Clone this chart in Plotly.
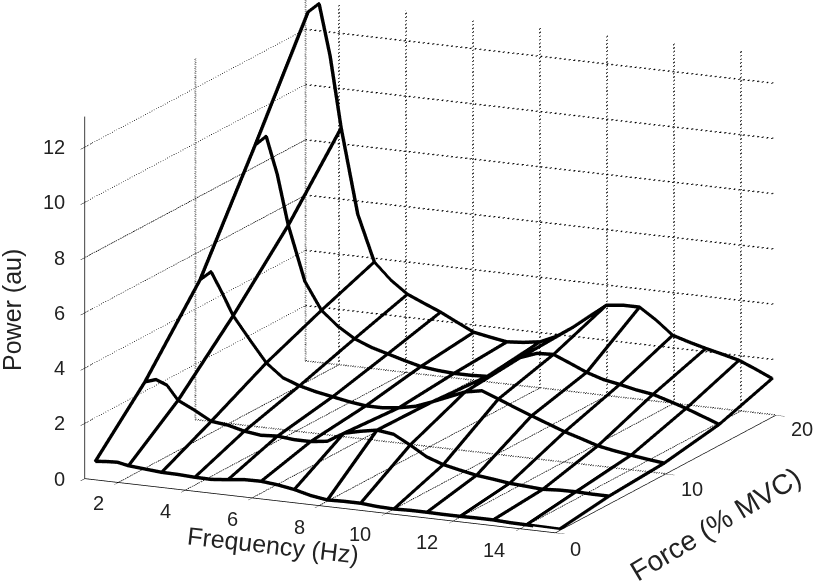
import plotly.graph_objects as go

# frequency samples (Hz); the wire lines run at every cross_idx sample
freq = [1.15, 1.48, 1.81, 2.14, 2.635, 3.13, 3.625, 4.12, 4.615, 5.11, 5.605, 6.1, 6.595, 7.09, 7.585,
        8.08, 8.575, 9.07, 9.565, 10.06, 10.555, 11.05, 11.545, 12.04, 12.535, 13.03, 13.525, 14.02, 14.515, 15.01]
cross_idx = [0, 3, 5, 7, 9, 11, 13, 15, 17, 19, 21, 23, 25, 27, 29]
force = [0.5, 5, 10, 15, 19.8]

power_f0 = [.54, .58, .6, .52, .47, .42, .41, .38, .37, .43, .5, .51, .45, .35, .2,
            .11, .13, .13, .08, .06, .08, .08, .07, .07, .08, .08, .05, .04, .03, .02]
power_f5 = [2.46, 2.59, 2.43, 1.93, 1.64, 1.31, 1.24, 1.09, 1.01, 1.05, .99, .99, 1.07, 1.43, 1.57,
            1.68, 1.6, 1.28, .92, .71, .58, .46, .39, .31, .27, .23, .27, .28, .26, .26]
power_f10 = [5.09, 5.43, 4.71, 3.93, 3.13, 2.36, 1.89, 1.67, 1.52, 1.41, 1.30, 1.22, 1.22, 1.29, 1.41,
             1.64, 1.89, 2.14, 2.25, 2.02, 1.78, 1.55, 1.33, 1.11, .93, .74, .63, .54, .46, .39]
power_f15 = [8.9, 9.27, 7.94, 6.14, 4.18, 3.2, 2.69, 2.31, 2.07, 1.90, 1.73, 1.58, 1.51, 1.47, 1.47,
             1.50, 1.93, 2.32, 2.54, 2.57, 2.32, 2.06, 1.87, 1.76, 1.63, 1.54, 1.36, 1.17, .95, .73]
power_f20 = [12.7, 13.05, 11.2, 8.64, 5.59, 3.93, 3.34, 2.9, 2.64, 2.39, 2.09, 1.80, 1.69, 1.59, 1.64,
             1.73, 2.0, 2.4, 2.87, 3.33, 3.4, 3.4, 3.0, 2.52, 2.34, 2.18, 2.04, 1.89, 1.64, 1.37]
power = [power_f0, power_f5, power_f10, power_f15, power_f20]

x_ticks = [2, 4, 6, 8, 10, 12, 14]
y_ticks = [0, 10, 20]
z_ticks = [0, 2, 4, 6, 8, 10, 12]
x_lim = [1, 15.05]
y_lim = [0, 20]
z_lim = [0, 13.1]

fig = go.Figure()


def dotted(xs, ys, zs):
    # second copy, a hair off, so the dots read as dark as in the print
    for off in [0, 0.025]:
        fig.add_trace(go.Scatter3d(x=[v + off for v in xs], y=ys, z=[v + off for v in zs],
                                   mode="lines", hoverinfo="skip", showlegend=False,
                                   line=dict(color="black", width=1.5, dash="dot")))


# dotted grid on both walls and the floor
for z in z_ticks[1:]:
    dotted([x_lim[0], x_lim[0], x_lim[1]], [y_lim[0], y_lim[1], y_lim[1]], [z, z, z])
for y in y_ticks[1:]:
    dotted([x_lim[0], x_lim[0]], [y, y], z_lim)
    dotted([x_lim[0], x_lim[1]], [y, y], [0, 0])
for x in x_ticks:
    dotted([x, x, x], [y_lim[0], y_lim[1], y_lim[1]], [0, 0, z_lim[1]])

# mesh lines: all of them in one list with gaps
wire_x, wire_y, wire_z = [], [], []
for row, f in zip(power, force):
    wire_x += freq + [None]
    wire_y += [f] * len(freq) + [None]
    wire_z += row + [None]
for i in cross_idx:
    wire_x += [freq[i]] * len(force) + [None]
    wire_y += force + [None]
    wire_z += [row[i] for row in power] + [None]

# webgl lines stay one pixel wide, so a few nudged copies give the heavy stroke
for dx, dz in [(0, 0), (0.03, 0), (-0.03, 0), (0, 0.036), (0, -0.036)]:
    fig.add_trace(go.Scatter3d(x=[v + dx if v is not None else None for v in wire_x], y=wire_y,
                               z=[v + dz if v is not None else None for v in wire_z],
                               mode="lines", hoverinfo="skip", showlegend=False,
                               line=dict(color="black", width=3)))

axis_style = dict(showgrid=False, zeroline=False, showbackground=False, showspikes=False,
                  showline=True, linecolor="black", linewidth=1.5, ticks="outside", ticklen=10,
                  tickcolor="black", tickwidth=1, title=dict(text=""), showticklabels=False)

# tick labels sit further from the axes than gl-axes puts them
tick_font = dict(family="Liberation Sans", size=20, color="#222222")
tick_labels = []
for v in x_ticks:
    tick_labels.append(dict(x=v, y=0, z=0, text=str(v), xshift=-20 if v < 10 else -26, yshift=-21))
for v, sx, sy in zip(y_ticks, [20, 26, 26], [-16, -15, -14]):
    tick_labels.append(dict(x=x_lim[1], y=v, z=0, text=str(v), xshift=sx, yshift=sy))
for v in z_ticks:
    tick_labels.append(dict(x=x_lim[0], y=0, z=v, text=str(v), xanchor="right", xshift=-18))
for t in tick_labels:
    t.update(showarrow=False, font=tick_font)

fig.update_layout(
    width=815, height=581,
    margin=dict(l=0, r=0, t=0, b=0),
    paper_bgcolor="white",
    showlegend=False,
    scene=dict(
        domain=dict(x=[0, 1], y=[0, 1]),
        xaxis=dict(range=x_lim, tickvals=x_ticks, **axis_style),
        yaxis=dict(range=y_lim, tickvals=y_ticks, **axis_style),
        zaxis=dict(range=z_lim, tickvals=z_ticks, **axis_style),
        aspectmode="manual",
        aspectratio=dict(x=1.786, y=1.80, z=1.286),
        camera=dict(projection=dict(type="orthographic"),
                    eye=dict(x=0.7544, y=-1.809, z=0.4139),
                    center=dict(x=-0.0622, y=-0.052, z=-0.0817),
                    up=dict(x=0, y=0, z=1)),
        annotations=tick_labels,
    ),
    annotations=[
        dict(text="Frequency (Hz)", x=273, y=545, textangle=6.5, font=dict(size=25)),
        dict(text="Force (% MVC)", x=715, y=524, textangle=-31, font=dict(size=28)),
        dict(text="Power (au)", x=12, y=310, textangle=-90, font=dict(size=25)),
    ],
)
for a in fig.layout.annotations:
    a.update(xref="paper", yref="paper", showarrow=False, xanchor="center", yanchor="middle",
             x=a.x / 815, y=1 - a.y / 581, font=dict(family="Liberation Sans", color="#222222"))

# the default body margin would push the plot 8px down and right, out of the window
fig.write_html("out.html", config={"displayModeBar": False},
               post_script="document.body.style.margin = '0';")
